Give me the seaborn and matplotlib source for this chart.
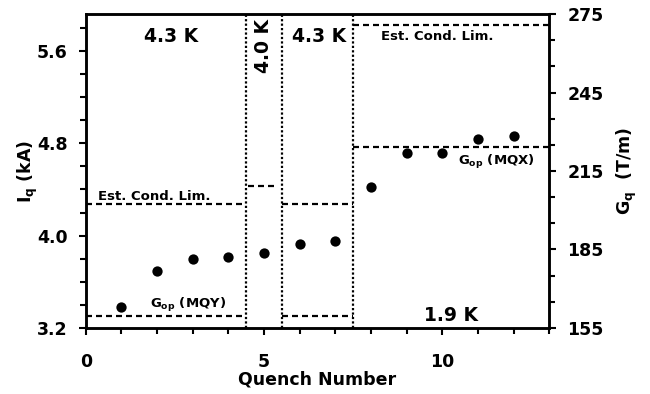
import matplotlib
matplotlib.use("Agg")
import matplotlib.pyplot as plt
import seaborn as sns
import pandas as pd
from matplotlib.ticker import MultipleLocator, FixedLocator, FormatStrFormatter

# Data
quench = [1, 2, 3, 4, 5, 6, 7, 8, 9, 10, 11, 12]
current_ka = [3.38, 3.69, 3.80, 3.81, 3.85, 3.93, 3.95, 4.42, 4.72, 4.72, 4.84, 4.86]

# Reference level segments (start x, end x, level in kA)
est_start = [0.0, 4.55, 5.5, 7.5]
est_end = [4.5, 5.3, 7.5, 13.0]
est_level = [4.27, 4.43, 4.27, 5.83]
gop_start = [0.0, 5.5, 7.5]
gop_end = [4.5, 7.5, 13.0]
gop_level = [3.30, 3.30, 4.77]
boundaries = [4.5, 5.5, 7.5]

right_major = [155, 185, 215, 245, 275]
right_minor = [165, 175, 195, 205, 225, 235, 255, 265]

sns.set_style("ticks", {"axes.edgecolor": "black", "text.color": "black",
                        "axes.labelcolor": "black", "xtick.color": "black",
                        "ytick.color": "black"})
plt.rcParams['font.family'] = ['DejaVu Sans']
plt.rcParams['font.weight'] = 'bold'
plt.rcParams['mathtext.default'] = 'regular'

fig = plt.figure(figsize=(6.5, 3.94), dpi=100)
ax = fig.add_axes([0.132, 0.168, 0.713, 0.796])

df = pd.DataFrame({"Quench": quench, "Iq": current_ka})
sns.scatterplot(data=df, x="Quench", y="Iq", ax=ax, color="black", s=55,
                edgecolor="black", linewidth=0, zorder=5)

dash = (0, (2.7, 1.8))
ax.hlines(est_level, est_start, est_end, colors="black", linestyles=dash, linewidth=1.6)
ax.hlines(gop_level, gop_start, gop_end, colors="black", linestyles=dash, linewidth=1.6)
for b in boundaries:
    ax.axvline(b, color="black", linestyle=(0, (1, 1)), linewidth=1.6)

ax.set_xlim(0, 13)
ax.set_ylim(3.2, 5.92)
ax.xaxis.set_major_locator(MultipleLocator(5))
ax.xaxis.set_minor_locator(MultipleLocator(1))
ax.yaxis.set_major_locator(MultipleLocator(0.8))
ax.yaxis.set_minor_locator(MultipleLocator(0.2))
ax.yaxis.set_major_formatter(FormatStrFormatter('%.1f'))
ax.tick_params(axis='both', which='major', direction='out', length=5, width=1.5,
               labelsize=12.5, top=False, colors="black")
ax.tick_params(axis='both', which='minor', direction='out', length=4, width=1.5,
               top=False, colors="black")
ax.tick_params(axis='x', which='major', pad=13)
ax.tick_params(axis='y', which='major', pad=8)
for sp in ax.spines.values():
    sp.set_linewidth(1.8)
    sp.set_color("black")
ax.set_xlabel("Quench Number", fontsize=12.5, fontweight='bold', labelpad=0, color="black")
ax.set_ylabel(r"I$_q$ (kA)", fontsize=12.5, fontweight='bold', labelpad=-2, color="black")

ax2 = ax.twinx()
ax2.set_ylim(155, 275)
ax2.yaxis.set_major_locator(FixedLocator(right_major))
ax2.yaxis.set_minor_locator(FixedLocator(right_minor))
ax2.tick_params(axis='y', which='major', direction='out', length=5, width=1.5,
                labelsize=12.5, pad=8, colors="black")
ax2.tick_params(axis='y', which='minor', direction='out', length=4, width=1.5, colors="black")
for sp in ax2.spines.values():
    sp.set_linewidth(1.8)
    sp.set_color("black")
ax2.set_ylabel(r"G$_q$  (T/m)", fontsize=12.5, fontweight='bold', labelpad=8, color="black")

# Annotations
kw = dict(fontweight='bold', color="black")
ax.text(2.4, 5.73, "4.3 K", ha="center", va="center", fontsize=13.5, **kw)
ax.text(4.98, 5.64, "4.0 K", ha="center", va="center", rotation=90, fontsize=13.5, **kw)
ax.text(6.55, 5.73, "4.3 K", ha="center", va="center", fontsize=13.5, **kw)
ax.text(9.86, 5.73, "Est. Cond. Lim.", ha="center", va="center", fontsize=9.5, **kw)
ax.text(0.33, 4.34, "Est. Cond. Lim.", ha="left", va="center", fontsize=9.5, **kw)
ax.text(10.25, 3.31, "1.9 K", ha="center", va="center", fontsize=13.5, **kw)
ax.text(1.8, 3.40, r"G$_{op}$ (MQY)", ha="left", va="center", fontsize=9.5, **kw)
ax.text(10.45, 4.64, r"G$_{op}$ (MQX)", ha="left", va="center", fontsize=9.5, **kw)

fig.savefig("out.png", dpi=100)
